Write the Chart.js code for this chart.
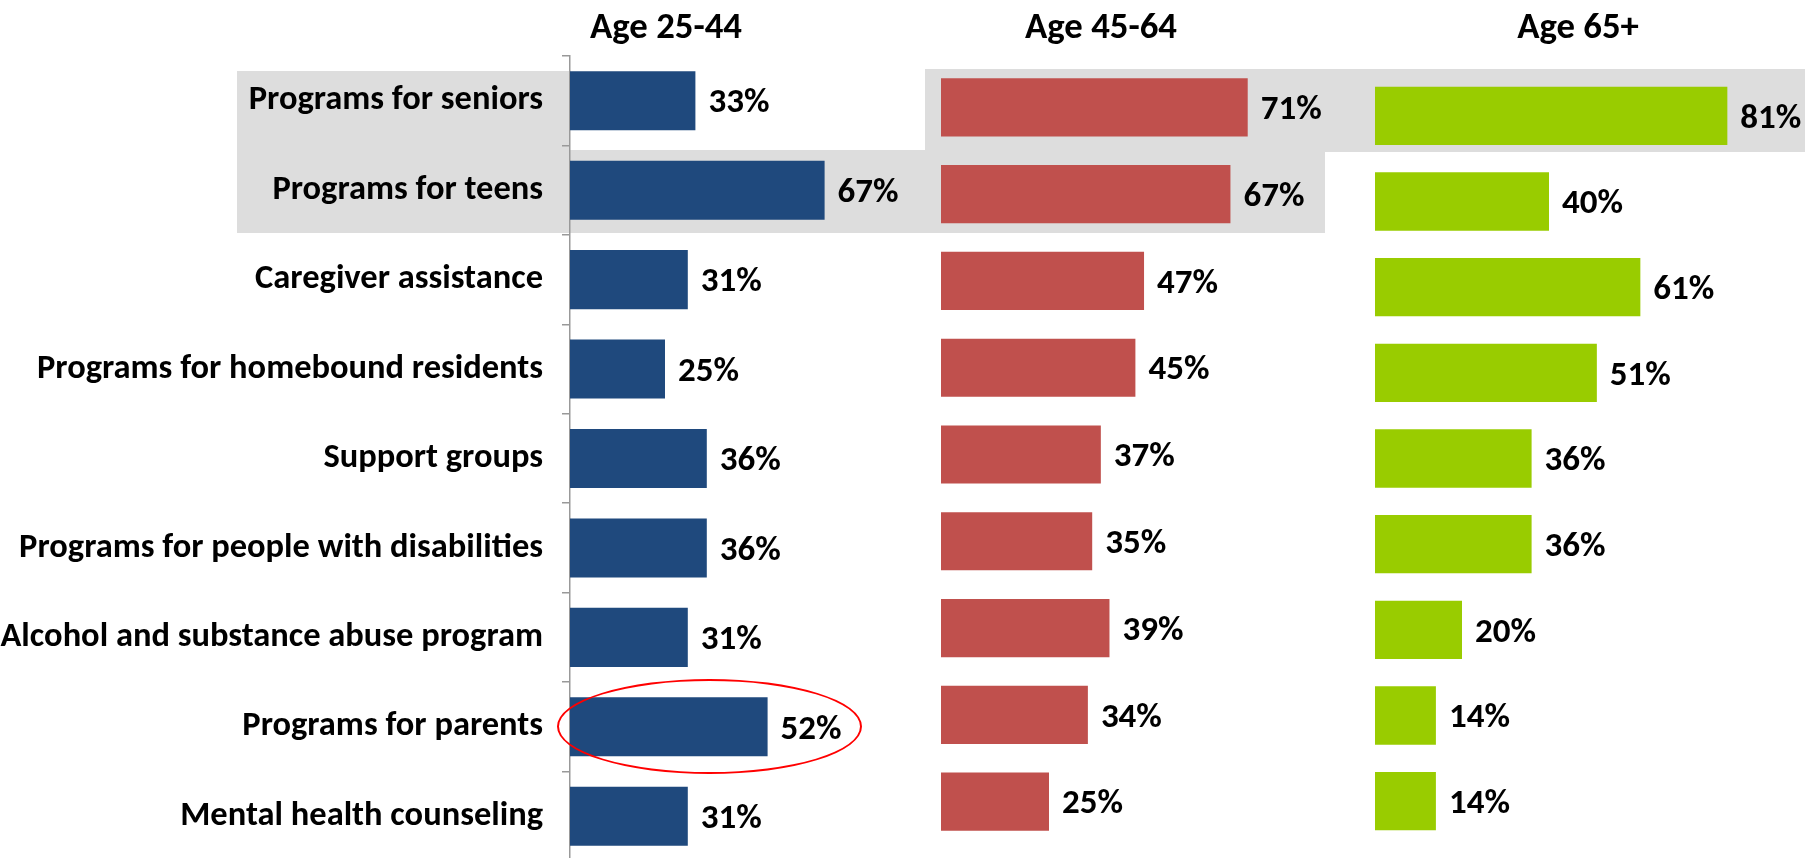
<!DOCTYPE html>
<html>
<head>
<meta charset="utf-8">
<script src="https://cdn.jsdelivr.net/npm/chart.js@4.4.1/dist/chart.umd.min.js"></script>
<style>
  html, body { margin: 0; padding: 0; width: 1817px; height: 858px; overflow: hidden; background: #fff; }
  .hl { position: absolute; background: #dddddd; }
  .panel { position: absolute; top: 0; }
  .head { position: absolute; top: 0; height: 51px; line-height: 51px; font-weight: bold; color: #000;
          transform: translateX(-50%); white-space: nowrap; }
  #ring { position: absolute; left: 557px; top: 679px; width: 301px; height: 91px;
          border: 2px solid #ff0000; border-radius: 50%; }
</style>
</head>
<body>
<!-- highlight boxes behind the charts -->
<div class="hl" style="left:237px;top:71px;width:333px;height:80px"></div>
<div class="hl" style="left:237px;top:150px;width:1088px;height:83px"></div>
<div class="hl" style="left:925px;top:69px;width:880px;height:83px"></div>

<canvas id="c1" class="panel" width="930" height="864" style="left:0px"></canvas>
<canvas id="c2" class="panel" width="480" height="864" style="left:900px"></canvas>
<canvas id="c3" class="panel" width="477" height="864" style="left:1340px"></canvas>

<div class="head" id="h1" style="left:666px"></div>
<div class="head" id="h2" style="left:1101px"></div>
<div class="head" id="h3" style="left:1578px"></div>
<div id="ring"></div>

<script>
// Data
const categories = [
    'Programs for seniors',
    'Programs for teens',
    'Caregiver assistance',
    'Programs for homebound residents',
    'Support groups',
    'Programs for people with disabilities',
    'Alcohol and substance abuse program',
    'Programs for parents',
    'Mental health counseling'
];
const age25to44 = [33, 67, 31, 25, 36, 36, 31, 52, 31];
const age45to64 = [71, 67, 47, 45, 37, 35, 39, 34, 25];
const age65plus = [81, 40, 61, 51, 36, 36, 20, 14, 14];
const groupTitles = ['Age 25-44', 'Age 45-64', 'Age 65+'];

const FONT = "Carlito, 'Liberation Sans Narrow', 'Liberation Sans', sans-serif";

// pick a font size so a text gets the width it has in the picture
function fitSize(text, width) {
    const c = document.createElement('canvas').getContext('2d');
    c.font = 'bold 100px ' + FONT;
    return 100 * width / c.measureText(text).width;
}
const labelSize = Math.min(36, fitSize(categories[5], 524));
const pctSize = Math.min(37, fitSize('33%', 61));
const headSize = Math.min(38, fitSize(groupTitles[0], 152));

['h1', 'h2', 'h3'].forEach((id, i) => {
    const el = document.getElementById(id);
    el.textContent = groupTitles[i];
    el.style.fontFamily = FONT;
    el.style.fontSize = headSize + 'px';
});

// value labels right of each bar
const barLabels = {
    id: 'barLabels',
    afterDatasetsDraw(chart) {
        const ctx = chart.ctx;
        const values = chart.data.datasets[0].data;
        ctx.save();
        ctx.font = `bold ${pctSize}px ${FONT}`;
        ctx.fillStyle = '#000';
        ctx.textAlign = 'left';
        ctx.textBaseline = 'middle';
        chart.getDatasetMeta(0).data.forEach((bar, i) => {
            ctx.fillText(values[i] + '%', bar.x + 13, bar.y + 3);
        });
        ctx.restore();
    }
};

function makePanel(id, values, color, opts) {
    return new Chart(document.getElementById(id), {
        type: 'bar',
        data: {
            labels: categories,
            datasets: [{
                data: values,
                backgroundColor: color,
                categoryPercentage: 1,
                barPercentage: opts.barPct
            }]
        },
        options: {
            indexAxis: 'y',
            responsive: false,
            animation: false,
            layout: { padding: opts.padding },
            plugins: { legend: { display: false }, tooltip: { enabled: false } },
            scales: {
                x: { display: false, min: 0, max: opts.max },
                y: opts.showAxis ? {
                    // fixed width so the axis sits at x=570, no extra label padding top/bottom
                    afterFit: s => { s.width = 570; s.paddingTop = 0; s.paddingBottom = 0; },
                    grid: { drawOnChartArea: false, tickLength: 8, color: '#999', lineWidth: 1.5 },
                    border: { color: '#999', width: 1.5 },
                    ticks: { color: '#000', padding: 19, font: { family: FONT, size: labelSize, weight: 'bold' } }
                } : { display: false }
            }
        },
        plugins: [barLabels]
    });
}

// 3.8 px per percent point, axis at x=570
makePanel('c1', age25to44, '#1f497d', {
    showAxis: true, max: 90, barPct: 0.66,
    padding: { top: 56, bottom: 3, left: 0, right: 930 - 570 - 90 * 3.8 }
});
// 4.32 px per point, zero at x=941
makePanel('c2', age45to64, '#c0504d', {
    showAxis: false, max: 100, barPct: 0.67,
    padding: { top: 64, bottom: 19, left: 41, right: 480 - 41 - 432 }
});
// 4.35 px per point, zero at x=1375
makePanel('c3', age65plus, '#99cc00', {
    showAxis: false, max: 100, barPct: 0.68,
    padding: { top: 73, bottom: 20, left: 35, right: 477 - 35 - 435 }
});
</script>
</body>
</html>
